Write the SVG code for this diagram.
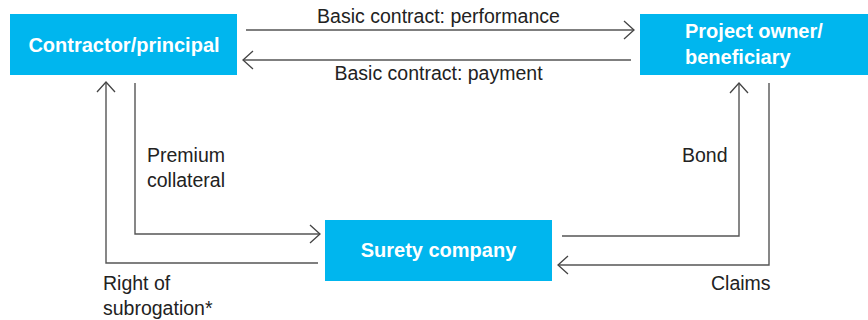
<svg xmlns="http://www.w3.org/2000/svg" width="868" height="320" viewBox="0 0 868 320">
<style>
.box{fill:#00b6ee}
.bt{font-family:"Liberation Sans",Arial,sans-serif;font-weight:bold;font-size:20px;fill:#fff}
.lt{font-family:"Liberation Sans",Arial,sans-serif;font-size:19.5px;fill:#222}
.c{fill:none;stroke:#555;stroke-width:1.4}
</style>
<defs>
<marker id="a" viewBox="0 0 12 20" refX="11" refY="10" markerWidth="12" markerHeight="20" markerUnits="userSpaceOnUse" orient="auto">
<path d="M1,1 L11,10 L1,19" fill="none" stroke="#444" stroke-width="1.3"/>
</marker>
</defs>
<rect width="868" height="320" fill="#fff"/>
<g id="contractor"><rect class="box" x="10" y="14" width="227" height="61"/><text class="bt" x="124" y="52" text-anchor="middle">Contractor/principal</text></g>
<g id="owner"><rect class="box" x="640" y="14" width="228" height="61"/><text class="bt" x="685" y="38">Project owner/</text><text class="bt" x="685" y="64">beneficiary</text></g>
<g id="surety"><rect class="box" x="325" y="220" width="227" height="61"/><text class="bt" x="438.5" y="257" text-anchor="middle">Surety company</text></g>
<g id="connectors">
<path class="c" d="M246,30 H634" marker-end="url(#a)"/>
<path class="c" d="M631,60 H243" marker-end="url(#a)"/>
<path class="c" d="M318,263 H106 V82" marker-end="url(#a)"/>
<path class="c" d="M135,83 V234 H320" marker-end="url(#a)"/>
<path class="c" d="M562,236 H739 V83" marker-end="url(#a)"/>
<path class="c" d="M769,83 V265 H558" marker-end="url(#a)"/>
</g>
<g id="labels">
<text class="lt" x="438.5" y="23" text-anchor="middle">Basic contract: performance</text>
<text class="lt" x="438.5" y="80" text-anchor="middle">Basic contract: payment</text>
<text class="lt" x="147" y="162">Premium</text>
<text class="lt" x="147" y="187">collateral</text>
<text class="lt" x="682" y="162">Bond</text>
<text class="lt" x="103" y="290">Right of</text>
<text class="lt" x="103" y="315">subrogation*</text>
<text class="lt" x="711" y="290">Claims</text>
</g>
</svg>
